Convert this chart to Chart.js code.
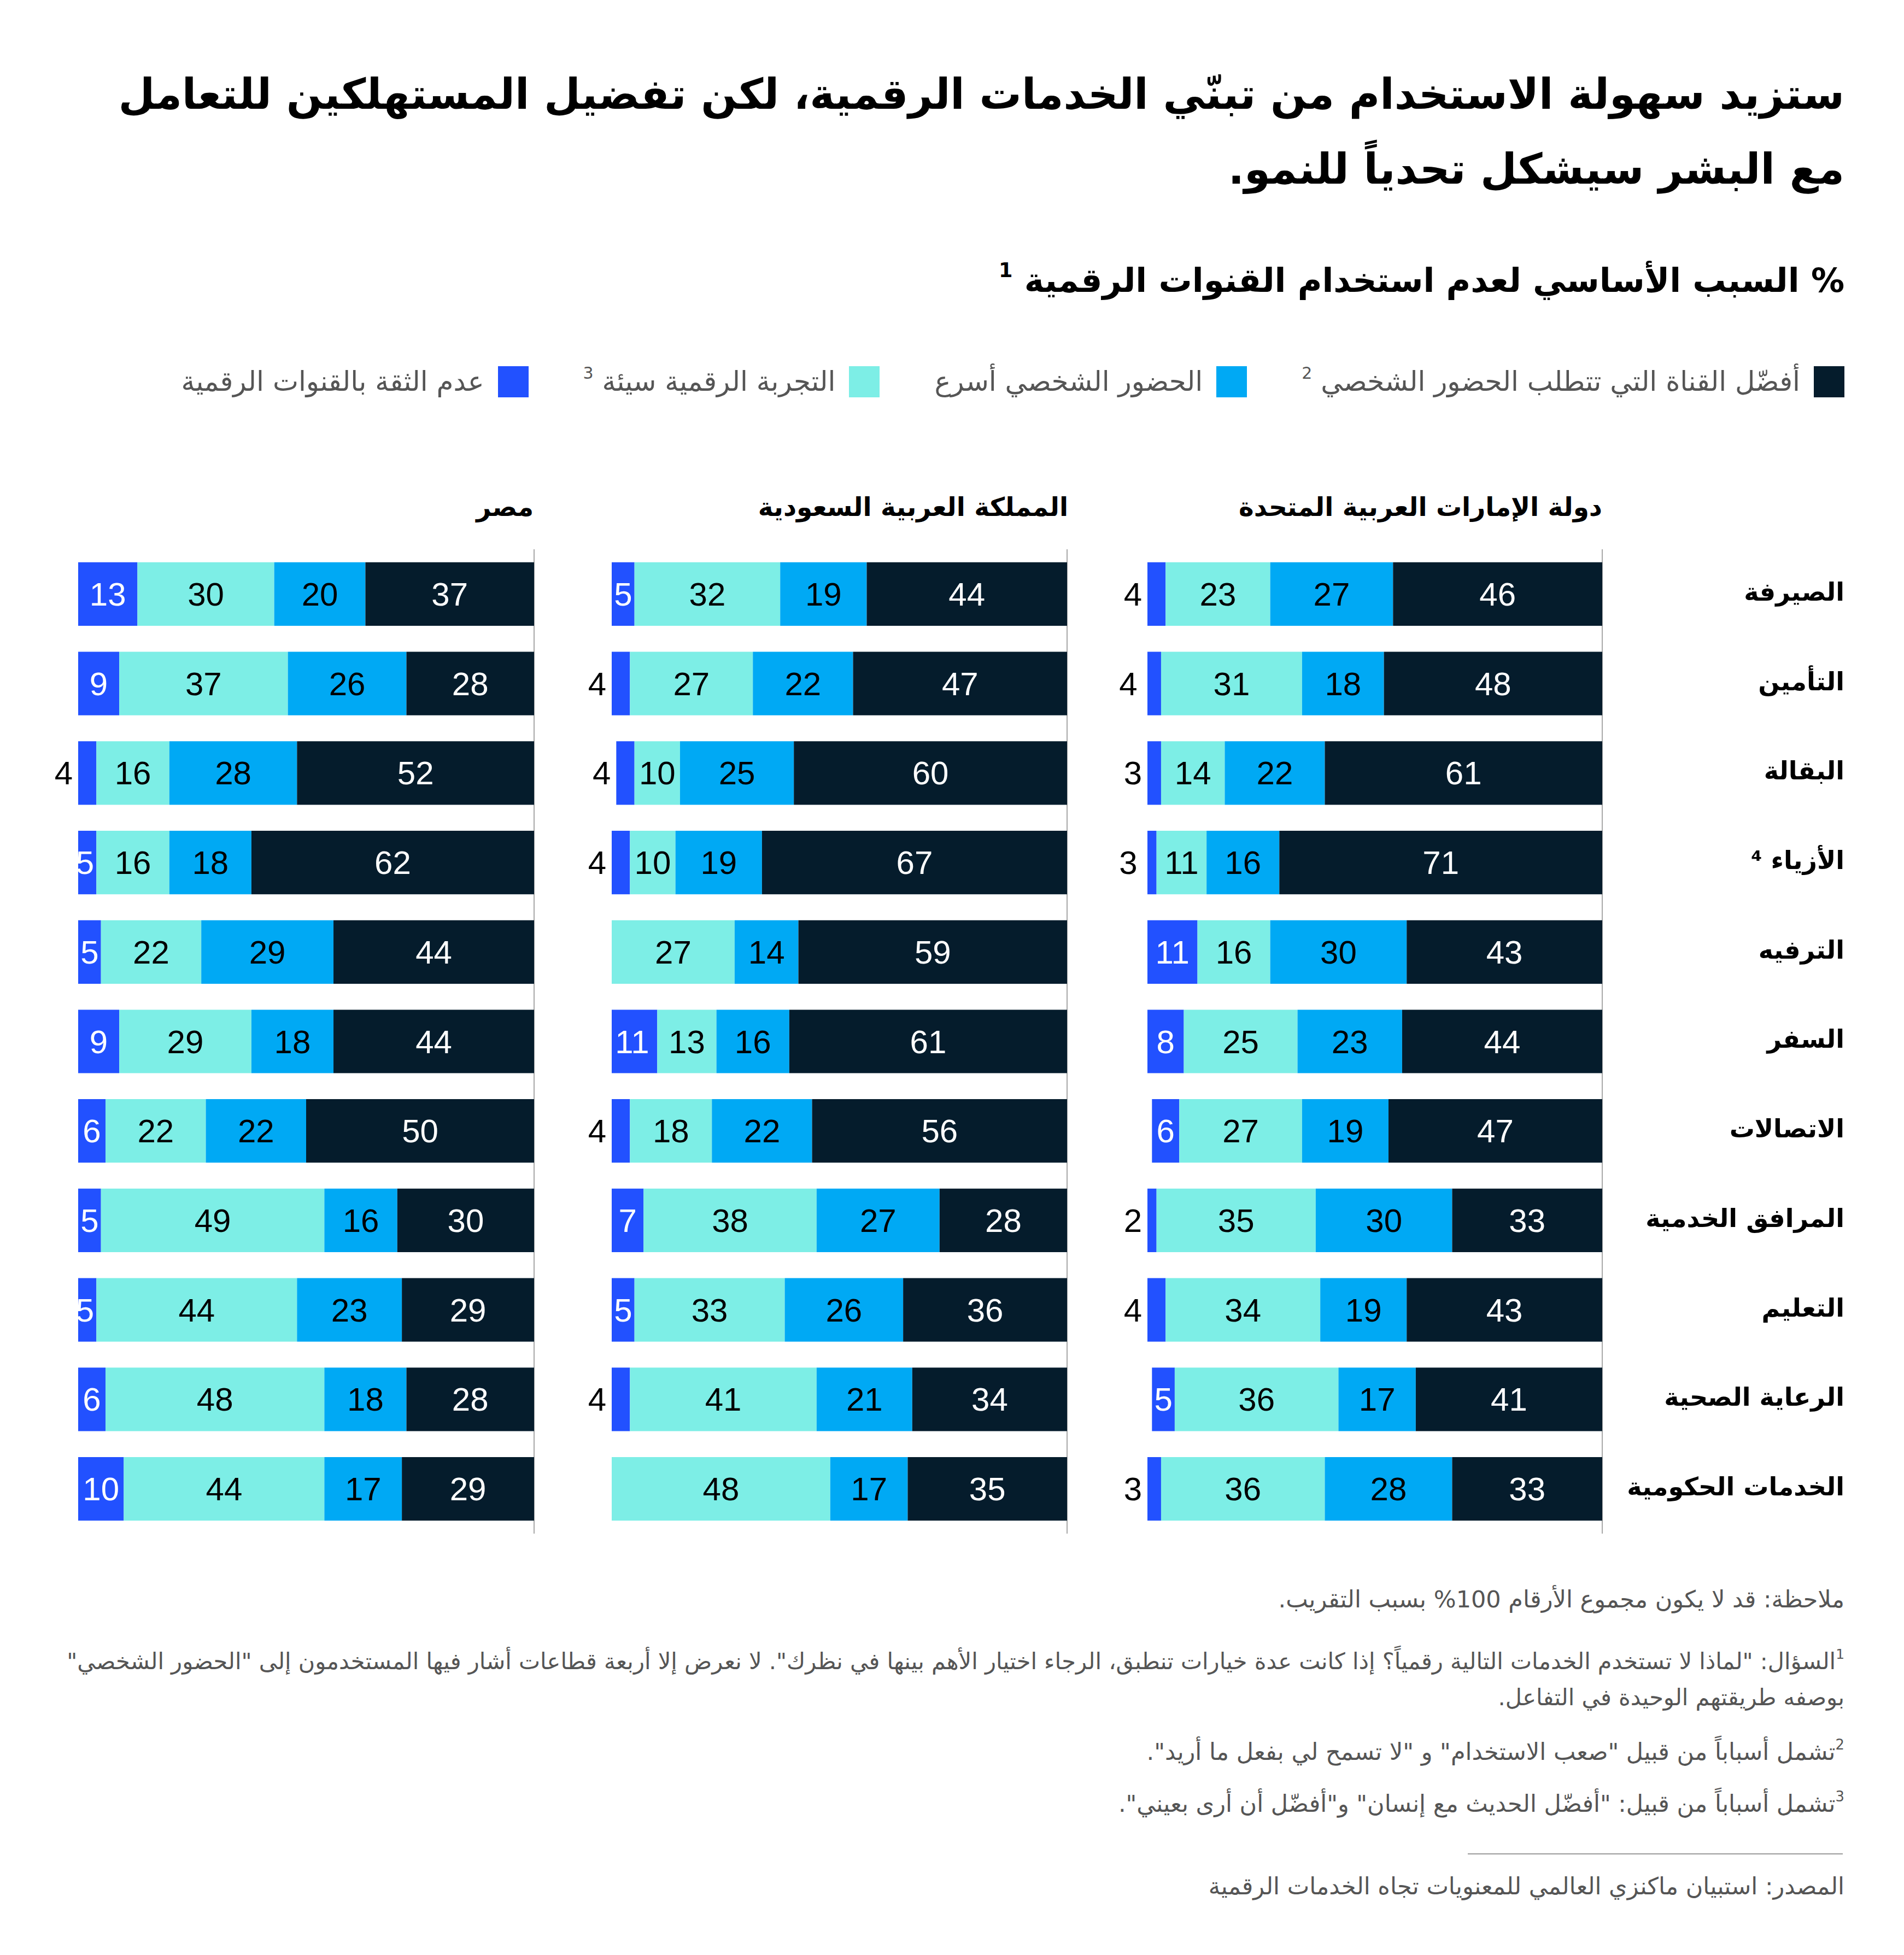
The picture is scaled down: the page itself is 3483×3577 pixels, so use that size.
<!DOCTYPE html>
<html lang="ar" dir="rtl">
<head>
<meta charset="utf-8">
<script src="https://cdn.jsdelivr.net/npm/chart.js@4.4.1/dist/chart.umd.min.js"></script>
<style>
html,body{margin:0;padding:0;background:#fff;}
#page{position:relative;width:3483px;height:3577px;background:#fff;overflow:hidden;font-family:"DejaVu Sans",sans-serif;color:#000;}
.abs{position:absolute;right:109px;white-space:nowrap;text-align:right;direction:rtl;}
#title{top:104px;font-size:77px;font-weight:bold;line-height:137px;}
#subtitle{top:470px;font-size:61px;font-weight:bold;line-height:86px;}
sup{font-size:0.6em;vertical-align:0.75em;line-height:0;}
#legend{top:668px;display:flex;flex-direction:row;gap:100px;align-items:center;font-size:50px;line-height:60px;color:#555;}
.item{display:flex;align-items:center;gap:25px;}
.sw{width:56px;height:57px;flex:none;}
.header{position:absolute;top:890px;font-size:47px;font-weight:bold;white-space:nowrap;direction:rtl;line-height:76px;}
canvas{position:absolute;}
.note{font-size:43px;color:#555;line-height:66px;}
#sep{position:absolute;left:2685px;width:686px;top:3391px;height:2px;background:#9a9a9a;}
</style>
</head>
<body>
<div id="page">
  <div id="title" class="abs">ستزيد سهولة الاستخدام من تبنّي الخدمات الرقمية، لكن تفضيل المستهلكين للتعامل<br>مع البشر سيشكل تحدياً للنمو.</div>
  <div id="subtitle" class="abs">% السبب الأساسي لعدم استخدام القنوات الرقمية <sup>1</sup></div>
  <div id="legend" class="abs"></div>
  <div id="h0" class="header"></div>
  <div id="h1" class="header"></div>
  <div id="h2" class="header"></div>
  <canvas id="cUAE" width="1361" height="1801" style="left:2019px;top:1005px;"></canvas>
  <canvas id="cKSA" width="917" height="1801" style="left:1039px;top:1005px;"></canvas>
  <canvas id="cEGY" width="918" height="1801" style="left:63px;top:1005px;"></canvas>
  <div class="abs note" style="top:2893px;">ملاحظة: قد لا يكون مجموع الأرقام 100% بسبب التقريب.</div>
  <div class="abs note" style="top:3007px;font-size:41.5px;"><sup>1</sup>السؤال: "لماذا لا تستخدم الخدمات التالية رقمياً؟ إذا كانت عدة خيارات تنطبق، الرجاء اختيار الأهم بينها في نظرك". لا نعرض إلا أربعة قطاعات أشار فيها المستخدمون إلى "الحضور الشخصي"<br>بوصفه طريقتهم الوحيدة في التفاعل.</div>
  <div class="abs note" style="top:3172px;"><sup>2</sup>تشمل أسباباً من قبيل "صعب الاستخدام" و "لا تسمح لي بفعل ما أريد".</div>
  <div class="abs note" style="top:3267px;"><sup>3</sup>تشمل أسباباً من قبيل: "أفضّل الحديث مع إنسان" و"أفضّل أن أرى بعيني".</div>
  <div id="sep"></div>
  <div class="abs note" style="top:3418px;">المصدر: استبيان ماكنزي العالمي للمعنويات تجاه الخدمات الرقمية</div>
</div>
<script>
// ---- Data ----
const categories = ['الصيرفة','التأمين','البقالة','الأزياء ⁴','الترفيه','السفر','الاتصالات','المرافق الخدمية','التعليم','الرعاية الصحية','الخدمات الحكومية'];
const countries = ['دولة الإمارات العربية المتحدة','المملكة العربية السعودية','مصر'];
const seriesNames = ['أفضّل القناة التي تتطلب الحضور الشخصي','الحضور الشخصي أسرع','التجربة الرقمية سيئة','عدم الثقة بالقنوات الرقمية'];
const seriesNotes = ['2','','3',''];

const uaePreferInPerson = [46,48,61,71,43,44,47,33,43,41,33];
const uaeInPersonFaster = [27,18,22,16,30,23,19,30,19,17,28];
const uaeBadDigital     = [23,31,14,11,16,25,27,35,34,36,36];
const uaeDistrust       = [4,4,3,3,11,8,6,2,4,5,3];

const ksaPreferInPerson = [44,47,60,67,59,61,56,28,36,34,35];
const ksaInPersonFaster = [19,22,25,19,14,16,22,27,26,21,17];
const ksaBadDigital     = [32,27,10,10,27,13,18,38,33,41,48];
const ksaDistrust       = [5,4,4,4,0,11,4,7,5,4,0];

const egyPreferInPerson = [37,28,52,62,44,44,50,30,29,28,29];
const egyInPersonFaster = [20,26,28,18,29,18,22,16,23,18,17];
const egyBadDigital     = [30,37,16,16,22,29,22,49,44,48,44];
const egyDistrust       = [13,9,4,5,5,9,6,5,5,6,10];

// ---- Styles ----
const seriesColors = ['#051C2C','#00A9F4','#7DEEE6','#2251FF'];
const labelColors = ['#ffffff','#000000','#000000','#ffffff'];
const numFont = '60px "Liberation Sans", Arial, sans-serif';
const rowFont = {family: 'DejaVu Sans', size: 46, weight: 'bold'};

// legend
const legendEl = document.getElementById('legend');
seriesNames.forEach((n, i) => {
  const it = document.createElement('div');
  it.className = 'item';
  const sw = document.createElement('div');
  sw.className = 'sw';
  sw.style.background = seriesColors[i];
  const tx = document.createElement('span');
  tx.textContent = n + (seriesNotes[i] ? ' ' : '');
  if (seriesNotes[i]) { const s = document.createElement('sup'); s.textContent = seriesNotes[i]; tx.appendChild(s); }
  it.appendChild(sw); it.appendChild(tx);
  legendEl.appendChild(it);
});

// headers
const headerRights = [552, 1529, 2507];
countries.forEach((c, i) => {
  const h = document.getElementById('h' + i);
  h.textContent = c;
  h.style.right = headerRights[i] + 'px';
});

const valueLabels = {
  id: 'valueLabels',
  afterDatasetsDraw(chart) {
    const ctx = chart.ctx;
    ctx.save();
    ctx.font = numFont;
    ctx.textBaseline = 'alphabetic';
    ctx.direction = 'ltr';
    chart.data.datasets.forEach((ds, di) => {
      const meta = chart.getDatasetMeta(di);
      meta.data.forEach((bar, i) => {
        const v = ds.data[i];
        if (!v) return;
        const p = bar.getProps(['x', 'y', 'base'], true);
        const left = Math.min(p.x, p.base), right = Math.max(p.x, p.base);
        const yy = p.y + 21;
        if (v < 5) {
          ctx.fillStyle = '#000';
          ctx.textAlign = 'right';
          ctx.fillText(String(v), left - 10, yy);
        } else {
          ctx.fillStyle = labelColors[di];
          ctx.textAlign = 'center';
          ctx.fillText(String(v), (left + right) / 2, yy);
        }
      });
    });
    ctx.restore();
  }
};

function measureWidest(labels, f) {
  const c = document.createElement('canvas').getContext('2d');
  c.font = f.weight + ' ' + f.size + 'px "' + f.family + '"';
  return Math.max(...labels.map(l => c.measureText(l).width));
}

function makeChart(id, series, showRows) {
  const axisW = showRows ? 443 : 0;
  const pad = showRows ? Math.max(0, axisW - measureWidest(categories, rowFont)) : 0;
  return new Chart(document.getElementById(id), {
    type: 'bar',
    data: {
      labels: categories,
      datasets: series.map((d, i) => ({
        label: seriesNames[i], data: d, backgroundColor: seriesColors[i], borderWidth: 0
      }))
    },
    options: {
      indexAxis: 'y', responsive: false, animation: false, devicePixelRatio: 1,
      layout: {padding: {left: 80, right: showRows ? 6 : 4, top: 0, bottom: 0}},
      datasets: {bar: {categoryPercentage: 1, barPercentage: 0.71}},
      plugins: {legend: {display: false}, tooltip: {enabled: false}},
      scales: {
        x: {stacked: true, min: 0, max: 100, reverse: true, display: false},
        y: {
          stacked: true, position: 'right',
          grid: {display: false, drawTicks: false},
          border: {display: true, color: '#a8a8a8', width: 2},
          ticks: {display: showRows, crossAlign: 'far', padding: pad, autoSkip: false, font: rowFont, color: '#000'},
          afterFit: s => { s.width = axisW; s.paddingTop = 0; s.paddingBottom = 0; }
        }
      }
    },
    plugins: [valueLabels]
  });
}

makeChart('cUAE', [uaePreferInPerson, uaeInPersonFaster, uaeBadDigital, uaeDistrust], true);
makeChart('cKSA', [ksaPreferInPerson, ksaInPersonFaster, ksaBadDigital, ksaDistrust], false);
makeChart('cEGY', [egyPreferInPerson, egyInPersonFaster, egyBadDigital, egyDistrust], false);
</script>
</body>
</html>
